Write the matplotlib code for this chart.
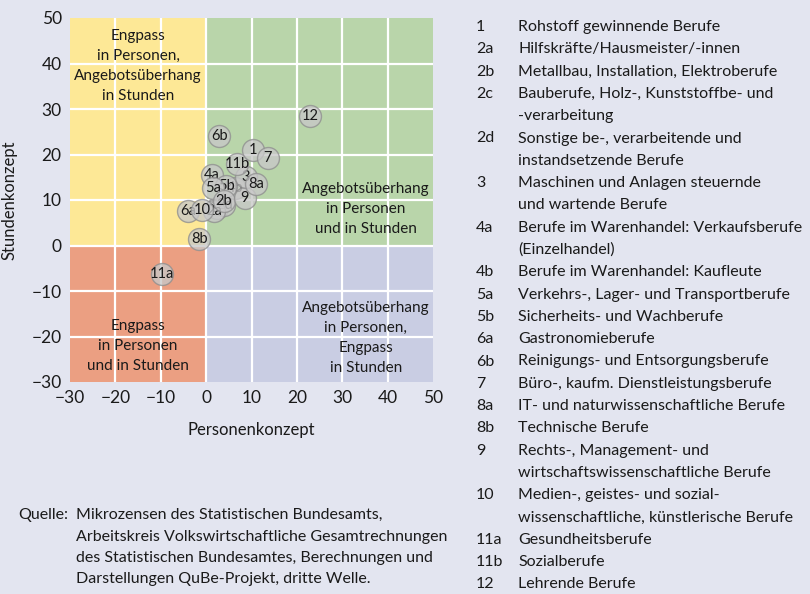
import matplotlib
matplotlib.use("Agg")
import matplotlib.pyplot as plt

# Daten: Personenkonzept (x) und Stundenkonzept (y), in Zeichenreihenfolge
codes = ["2c", "2d", "6a", "2a", "10", "4a", "4b", "5b", "5a", "2b",
         "9", "3", "8a", "11b", "1", "7", "6b", "8b", "11a", "12"]
personen = [2.5, 4.0, -4.0, 1.7, -0.8, 1.2, 6.3, 4.4, 1.5, 3.9,
            8.5, 8.8, 11.1, 6.9, 10.3, 13.6, 2.9, -1.5, -9.7, 23.0]
stunden = [8.2, 8.8, 7.5, 7.6, 7.7, 15.4, 12.7, 13.0, 12.7, 9.7,
           10.4, 15.0, 13.6, 17.9, 20.9, 19.2, 24.0, 1.4, -6.2, 28.4]

legend_codes = ["1", "2a", "2b", "2c", "", "2d", "", "3", "", "4a", "", "4b",
                "5a", "5b", "6a", "6b", "7", "8a", "8b", "9", "", "10", "",
                "11a", "11b", "12"]
legend_texts = [
    "Rohstoff gewinnende Berufe",
    "Hilfskräfte/Hausmeister/-innen",
    "Metallbau, Installation, Elektroberufe",
    "Bauberufe, Holz-, Kunststoffbe- und",
    "-verarbeitung",
    "Sonstige be-, verarbeitende und",
    "instandsetzende Berufe",
    "Maschinen und Anlagen steuernde",
    "und wartende Berufe",
    "Berufe im Warenhandel: Verkaufsberufe",
    "(Einzelhandel)",
    "Berufe im Warenhandel: Kaufleute",
    "Verkehrs-, Lager- und Transportberufe",
    "Sicherheits- und Wachberufe",
    "Gastronomieberufe",
    "Reinigungs- und Entsorgungsberufe",
    "Büro-, kaufm. Dienstleistungsberufe",
    "IT- und naturwissenschaftliche Berufe",
    "Technische Berufe",
    "Rechts-, Management- und",
    "wirtschaftswissenschaftliche Berufe",
    "Medien-, geistes- und sozial-",
    "wissenschaftliche, künstlerische Berufe",
    "Gesundheitsberufe",
    "Sozialberufe",
    "Lehrende Berufe",
]

quelle = ["Mikrozensen des Statistischen Bundesamts,",
          "Arbeitskreis Volkswirtschaftliche Gesamtrechnungen",
          "des Statistischen Bundesamtes, Berechnungen und",
          "Darstellungen QuBe-Projekt, dritte Welle."]

x_ticks = [-30, -20, -10, 0, 10, 20, 30, 40, 50]
y_ticks = [-30, -20, -10, 0, 10, 20, 30, 40, 50]

plt.rcParams["font.family"] = ["Lato", "DejaVu Sans"]
bg = "#e3e5f0"
txt = "#1a1a1a"

fig = plt.figure(figsize=(8.1, 5.94), dpi=100, facecolor=bg)
ax = fig.add_axes([70 / 810, (594 - 382) / 594, 363 / 810, 364 / 594])
ax.set_facecolor(bg)
xmin, xmax = x_ticks[0], x_ticks[-1]
ymin, ymax = y_ticks[0], y_ticks[-1]

# Quadranten
ax.fill_between([xmin, 0], 0, ymax, color="#fde896", lw=0, zorder=0)
ax.fill_between([0, xmax], 0, ymax, color="#b9d5aa", lw=0, zorder=0)
ax.fill_between([xmin, 0], ymin, 0, color="#eb9f82", lw=0, zorder=0)
ax.fill_between([0, xmax], ymin, 0, color="#c9cde3", lw=0, zorder=0)

# Gitter
for t in x_ticks[1:-1]:
    ax.axvline(t, color="white", lw=1.6, zorder=1)
for t in y_ticks[1:-1]:
    ax.axhline(t, color="white", lw=1.6, zorder=1)

ax.set_xlim(xmin, xmax)
ax.set_ylim(ymin, ymax)
ax.set_xticks(x_ticks)
ax.set_yticks(y_ticks)
ax.set_xticklabels([str(t).replace("-", "\u2212") for t in x_ticks])
ax.set_yticklabels([str(t).replace("-", "\u2212") for t in y_ticks])
ax.tick_params(length=0, labelsize=12.5, colors=txt, pad=6)
for s in ax.spines.values():
    s.set_visible(False)
ax.set_xlabel("Personenkonzept", fontsize=12, color=txt, labelpad=11)
ax.set_ylabel("Stundenkonzept", fontsize=12, color=txt, labelpad=10)

# Quadranten-Beschriftung
qkw = dict(ha="center", va="center", fontsize=11, color=txt, linespacing=1.55, zorder=2)
ax.text(-15, 39.5, "Engpass\nin Personen,\nAngebotsüberhang\nin Stunden", **qkw)
ax.text(35.2, 8.1, "Angebotsüberhang\nin Personen\nund in Stunden", **qkw)
ax.text(-15, -22, "Engpass\nin Personen\nund in Stunden", **qkw)
ax.text(35.2, -20.3, "Angebotsüberhang\nin Personen,\nEngpass\nin Stunden", **qkw)

# Punkte
for i, (c, x, y) in enumerate(zip(codes, personen, stunden)):
    ax.scatter(x, y, s=250, facecolor="#c8c8c8", edgecolor="#8f8f8f",
               linewidth=1.0, alpha=0.78, zorder=3 + 2 * i)
    ax.text(x, y, c, ha="center", va="center", fontsize=10.5,
            color=txt, zorder=4 + 2 * i)

# Legende rechts
y0 = 27
step = 22.3
for i, (c, t) in enumerate(zip(legend_codes, legend_texts)):
    ypix = y0 + i * step
    fig.text(476 / 810, 1 - ypix / 594, c, ha="left", va="center",
             fontsize=11.5, color=txt)
    fig.text(518 / 810, 1 - ypix / 594, t, ha="left", va="center",
             fontsize=11.5, color=txt)

# Quelle
fig.text(18 / 810, 1 - 515 / 594, "Quelle:", ha="left", va="center",
         fontsize=11.5, color=txt)
for i, line in enumerate(quelle):
    fig.text(76 / 810, 1 - (515 + i * 21.5) / 594, line, ha="left",
             va="center", fontsize=11.5, color=txt)

fig.savefig("out.png", dpi=100, facecolor=bg)
